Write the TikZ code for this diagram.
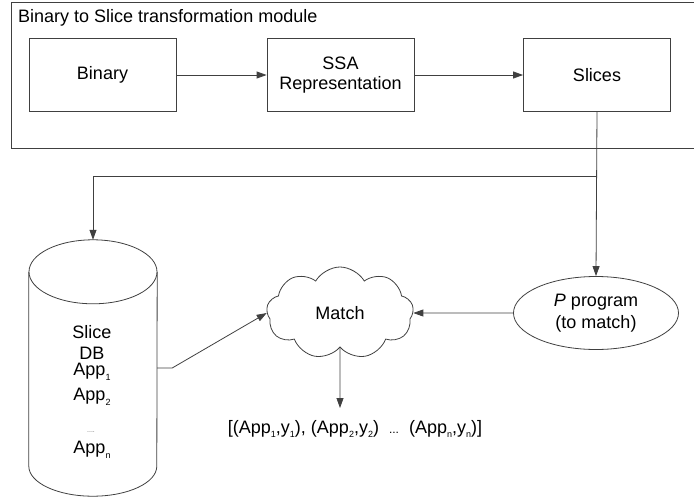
\documentclass[tikz,border=0pt]{standalone}
\usepackage{fontspec}
\setmainfont{Liberation Sans}
\usetikzlibrary{arrows.meta,shapes.geometric,shapes.symbols}
\newcommand{\lowsub}[1]{\raisebox{-4.5pt}{\fontsize{9}{9}\selectfont #1}}

\begin{document}
\begin{tikzpicture}[x=1pt,y=1pt,yscale=-1,xscale=1,
  line/.style={draw=black!75,line width=0.8pt},
  arr/.style={line,-{Triangle[length=10pt,width=7pt]}},
  txt/.style={font=\fontsize{18}{20}\selectfont,inner sep=0pt,align=center},
  blk/.style={line,txt,minimum width=147,minimum height=73}]
\useasboundingbox (0,0) rectangle (694,498);

%Shape: Rectangle (module)
\draw[line] (11,2) rectangle (720,148);
% Text Node
\node[txt,anchor=base west] (title) at (18,22) {Binary to Slice transformation module};

%Shape: boxes
\node[blk] (bin) at (102.5,75) {Binary};
\node[blk] (ssa) at (340.5,75) {SSA\\Representation};
\node[blk] (slc) at (597,75) {Slices};

%Shape: Can (slice db)
\node[inner sep=0pt,minimum width=128,minimum height=256] (db) at (93,368) {};
\draw[line] ([yshift=32pt]db.north west) -- ([yshift=-30pt]db.south west)
  arc[start angle=180,end angle=0,x radius=64,y radius=30] -- ([yshift=32pt]db.north east);
\draw[line] ([yshift=32pt]db.north) ellipse [x radius=64,y radius=32];
% Text Node
\node[txt,font=\fontsize{18}{21}\selectfont] (dbname) at (92,342) {Slice\\DB};
\node[txt] (app1) at (92,372) {App\lowsub{1}};
\node[txt] (app2) at (92,397) {App\lowsub{2}};
\node[txt,font=\fontsize{7}{7}\selectfont,text=black!55] (dots) at (91,432) {....};
\node[txt] (appn) at (92,450) {App\lowsub{n}};

%Shape: Cloud
\node[cloud,line,txt,cloud puffs=9,cloud puff arc=120,aspect=1.6,minimum width=147,minimum height=92] (match) at (340,313) {Match};

%Shape: Ellipse
\node[ellipse,line,txt,font=\fontsize{18}{22}\selectfont,minimum width=165,minimum height=73] (prog) at (596,313) {\textit{P} program\\(to match)};

% Text Node
\node[txt] (res) at (355,429) {[(App\lowsub{1},y\lowsub{1}), (App\lowsub{2},y\lowsub{2})\ \ {\fontsize{12}{12}\selectfont ...}\ \ (App\lowsub{n},y\lowsub{n})]};

%Straight Lines
\coordinate (split) at (597,176);
\coordinate (resin) at (340,408);
\draw[arr] (bin) -- (ssa);
\draw[arr] (ssa) -- (slc);
\draw[arr] (slc.south) -- (prog.north);
\draw[arr] (split) -| (db.north);
\draw[arr] (db.east) -- ++(15,0) -- (match.west);
\draw[arr] (prog.west) -- (match.east);
\draw[arr] (match.south) -- (resin);

\end{tikzpicture}
\end{document}
